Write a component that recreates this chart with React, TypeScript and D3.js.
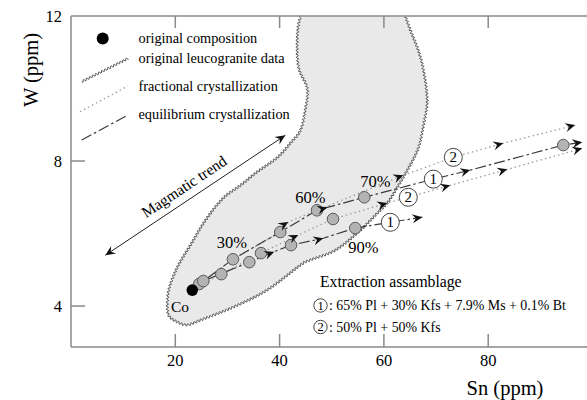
import React from 'react';
import * as d3 from 'd3';

// ---------- data ----------
const xTicks = [20, 40, 60, 80];
const yTicks = [4, 8, 12];

// outline of the original leucogranite data field (Sn, W)
const regionSn = [44.0, 43.4, 43.6, 45.3, 44.9, 44.0, 42.1, 39.6, 35.7, 32.5, 29.2, 25.8, 22.9, 20.6, 19.0, 18.5, 18.7, 20.4, 22.3, 24.8, 31.1, 37.6, 44.0, 45.9, 50.7, 55.1, 58.4, 60.8, 62.8, 64.7, 66.6, 67.6, 68.3, 67.6, 66.6, 65.1, 64.1];
const regionW = [12.0, 11.5, 10.6, 10.0, 9.4, 8.85, 8.5, 8.1, 7.7, 7.33, 6.98, 6.37, 5.68, 5.13, 4.58, 4.17, 3.75, 3.56, 3.48, 3.61, 3.97, 4.44, 5.13, 5.27, 5.54, 6.04, 6.51, 6.87, 7.33, 7.8, 8.35, 8.99, 9.67, 10.5, 11.05, 11.6, 12.0];

const coSn = 23.26;
const coW = 4.44;

// modelled melt compositions (grey circles)
const modelSn = [24.6, 25.37, 28.82, 31.06, 34.19, 36.43, 40.13, 42.19, 47.17, 50.24, 54.51, 56.24, 94.4];
const modelW = [4.61, 4.69, 4.88, 5.29, 5.21, 5.46, 6.04, 5.68, 6.64, 6.4, 6.15, 7.0, 8.44];

// trajectories
const frac2UpperSn = [23.26, 25.37, 31.06, 40.13, 41.67, 47.17, 63.72, 73.31, 82.89, 96.7];
const frac2UpperW = [4.44, 4.69, 5.29, 6.04, 6.32, 6.64, 7.61, 8.1, 8.49, 8.99];
const frac2UpperArrows = [4, 6, 8, 9];

const eq1UpperSn = [23.26, 25.37, 31.06, 40.13, 47.17, 49.15, 56.24, 69.47, 76.57, 94.4, 98.04];
const eq1UpperW = [4.44, 4.69, 5.29, 6.04, 6.64, 6.72, 7.0, 7.5, 7.75, 8.44, 8.52];
const eq1UpperArrows = [5, 8, 10];

const frac2LowerSn = [23.26, 28.82, 36.43, 43.59, 50.24, 60.65, 64.68, 72.73, 83.66, 98.04];
const frac2LowerW = [4.44, 4.88, 5.46, 5.96, 6.4, 6.84, 7.0, 7.33, 7.77, 8.35];
const frac2LowerArrows = [3, 5, 7, 8, 9];

const eq1LowerSn = [23.26, 25.37, 34.19, 38.98, 42.19, 48.38, 54.51, 61.23, 67.36];
const eq1LowerW = [4.44, 4.69, 5.21, 5.5, 5.68, 5.87, 6.15, 6.31, 6.45];
const eq1LowerArrows = [3, 5, 8];

// circled assemblage labels on the trajectories
const markLabels = ['2', '1', '2', '1'];
const markSn = [73.31, 69.47, 64.68, 61.23];
const markW = [8.1, 7.5, 7.0, 6.31];

// percentage labels
const pctLabels = ['30%', '60%', '70%', '90%'];
const pctSn = [30.87, 45.89, 58.35, 56.05];
const pctW = [5.6, 6.84, 7.28, 5.46];

// magmatic trend arrow (Sn, W)
const trendSn = [6.58, 41.09];
const trendW = [5.4, 8.71];

const legendItems = ['original composition', 'original leucogranite data', 'fractional crystallization', 'equilibrium crystallization'];
const assemblageTitle = 'Extraction assamblage';
const assemblageNums = ['1', '2'];
const assemblageTexts = [': 65% Pl + 30% Kfs + 7.9% Ms + 0.1% Bt', ': 50% Pl + 50% Kfs'];

// ---------- helpers ----------
const FONT = "'Liberation Serif', 'Times New Roman', serif";
type P = [number, number];

function catmull(pts: P[], steps = 10): P[] {
  const out: P[] = [];
  for (let i = 0; i < pts.length - 1; i++) {
    const p0 = pts[i - 1] || pts[i];
    const p1 = pts[i];
    const p2 = pts[i + 1];
    const p3 = pts[i + 2] || pts[i + 1];
    for (let s = 0; s < steps; s++) {
      const t = s / steps, t2 = t * t, t3 = t2 * t;
      const f = (a: number, b: number, c: number, d: number) =>
        0.5 * (2 * b + (-a + c) * t + (2 * a - 5 * b + 4 * c - d) * t2 + (-a + 3 * b - 3 * c + d) * t3);
      out.push([f(p0[0], p1[0], p2[0], p3[0]), f(p0[1], p1[1], p2[1], p3[1])]);
    }
  }
  out.push(pts[pts.length - 1]);
  return out;
}

function wavy(pts: P[], amp: number, wl: number): string {
  const cum = [0];
  for (let i = 1; i < pts.length; i++) cum.push(cum[i - 1] + Math.hypot(pts[i][0] - pts[i - 1][0], pts[i][1] - pts[i - 1][1]));
  const total = cum[cum.length - 1];
  const res: P[] = [];
  let j = 1;
  for (let s = 0; s <= total; s += 0.5) {
    while (j < pts.length - 1 && cum[j] < s) j++;
    const a = pts[j - 1], b = pts[j];
    const seg = cum[j] - cum[j - 1] || 1;
    const t = Math.min(1, Math.max(0, (s - cum[j - 1]) / seg));
    const dx = (b[0] - a[0]) / seg, dy = (b[1] - a[1]) / seg;
    const o = amp * Math.sin((2 * Math.PI * s) / wl);
    res.push([a[0] + (b[0] - a[0]) * t - dy * o, a[1] + (b[1] - a[1]) * t + dx * o]);
  }
  return 'M' + res.map((p) => p[0].toFixed(2) + ',' + p[1].toFixed(2)).join('L');
}

const Arrowhead = ({ x, y, a }: { x: number; y: number; a: number }) => (
  <path d="M0,0 L-10,-4.5 L-6.5,0 L-10,4.5 Z" transform={`translate(${x},${y}) rotate(${a})`} fill="#111" />
);

const Circled = ({ x, y, n, r = 9, fs = 15 }: { x: number; y: number; n: string; r?: number; fs?: number }) => (
  <g>
    <circle cx={x} cy={y} r={r} fill="#fff" stroke="#444" strokeWidth={1} />
    <text x={x} y={y + fs * 0.34} textAnchor="middle" fontSize={fs} fontFamily={FONT}>{n}</text>
  </g>
);

export default function App() {
  const W = 587, H = 400;
  const x = d3.scaleLinear().domain([0, 100]).range([71, 592.5]);
  const y = d3.scaleLinear().domain([2.87, 12]).range([347, 16]);

  const regionPx: P[] = regionSn.map((s, i) => [x(s), y(regionW[i])]);
  const regionPath = wavy(catmull(regionPx, 8), 1.2, 3.4);

  const line = d3.line<P>().x((d) => x(d[0])).y((d) => y(d[1]));

  const lines = [
    { sn: frac2UpperSn, w: frac2UpperW, arrows: frac2UpperArrows, type: 'frac' },
    { sn: frac2LowerSn, w: frac2LowerW, arrows: frac2LowerArrows, type: 'frac' },
    { sn: eq1UpperSn, w: eq1UpperW, arrows: eq1UpperArrows, type: 'eq' },
    { sn: eq1LowerSn, w: eq1LowerW, arrows: eq1LowerArrows, type: 'eq' },
  ];

  const styleOf = (t: string) =>
    t === 'frac'
      ? { stroke: '#9a9a9a', strokeWidth: 1.3, strokeDasharray: '1.5,3' }
      : { stroke: '#3a3a3a', strokeWidth: 1.2, strokeDasharray: '11,3,2.5,3' };

  const arrowsOf = (sn: number[], w: number[], idx: number[]) =>
    idx.map((k) => {
      const a = k > 0 ? k - 1 : k;
      const b = k < sn.length - 1 ? k + 1 : k;
      const ang = (Math.atan2(y(w[b]) - y(w[a]), x(sn[b]) - x(sn[a])) * 180) / Math.PI;
      return { x: x(sn[k]), y: y(w[k]), a: ang };
    });

  const tx0 = x(trendSn[0]), ty0 = y(trendW[0]), tx1 = x(trendSn[1]), ty1 = y(trendW[1]);
  const tAng = (Math.atan2(ty1 - ty0, tx1 - tx0) * 180) / Math.PI;

  const axisColor = '#8a8a8a';
  const legendWave = wavy([[81.7, 81.7], [128.3, 58.3]], 1.1, 3.4);

  return (
    <svg width={W} height={H} style={{ position: 'absolute', left: 0, top: 0, background: '#fff' }} fontFamily={FONT}>
      {/* data field */}
      <path d={regionPath + 'Z'} fill="#e9e9e9" stroke="none" />
      <path d={regionPath} fill="none" stroke="#3c3c3c" strokeWidth={0.9} />

      {/* axes frame */}
      <line x1={71} y1={16} x2={W} y2={16} stroke={axisColor} strokeWidth={1.5} />
      <line x1={71} y1={16} x2={71} y2={347} stroke={axisColor} strokeWidth={1.5} />
      <line x1={71} y1={347} x2={W} y2={347} stroke={axisColor} strokeWidth={1.5} />
      {xTicks.map((t) => (
        <g key={'xt' + t}>
          <line x1={x(t)} x2={x(t)} y1={347} y2={334} stroke={axisColor} strokeWidth={1.5} />
          <line x1={x(t)} x2={x(t)} y1={16} y2={28} stroke={axisColor} strokeWidth={1.5} />
          <text x={x(t)} y={366} textAnchor="middle" fontSize={16.5}>{t}</text>
        </g>
      ))}
      {yTicks.map((t) => (
        <g key={'yt' + t}>
          {t < 12 && <line x1={71} x2={85} y1={y(t)} y2={y(t)} stroke={axisColor} strokeWidth={1.5} />}
          <text x={62} y={y(t) + 5.5} textAnchor="end" fontSize={16.5}>{t}</text>
        </g>
      ))}
      <text transform="translate(38,70) rotate(-90)" textAnchor="middle" fontSize={20.5}>W (ppm)</text>
      <text x={505} y={395} textAnchor="middle" fontSize={20.5}>Sn (ppm)</text>

      {/* trajectories */}
      {lines.map((l, i) => (
        <path key={'l' + i} d={line(l.sn.map((s, j) => [s, l.w[j]] as P)) || ''} fill="none" {...styleOf(l.type)} />
      ))}

      {/* model points */}
      {modelSn.map((s, i) => (
        <circle key={'m' + i} cx={x(s)} cy={y(modelW[i])} r={5.8} fill="#b3b3b3" stroke="#5a5a5a" strokeWidth={1} />
      ))}
      <circle cx={x(coSn)} cy={y(coW)} r={5.8} fill="#000" />

      {lines.map((l, i) =>
        arrowsOf(l.sn, l.w, l.arrows).map((a, j) => <Arrowhead key={'a' + i + '-' + j} {...a} />)
      )}

      {markLabels.map((m, i) => (
        <Circled key={'c' + i} x={x(markSn[i])} y={y(markW[i])} n={m} />
      ))}

      {pctLabels.map((p, i) => (
        <text key={'p' + i} x={x(pctSn[i])} y={y(pctW[i])} textAnchor="middle" fontSize={16.5}>{p}</text>
      ))}
      <text x={171} y={312} fontSize={15.5}>Co</text>

      {/* magmatic trend */}
      <line x1={tx0} y1={ty0} x2={tx1} y2={ty1} stroke="#222" strokeWidth={1} />
      <Arrowhead x={tx1} y={ty1} a={tAng} />
      <Arrowhead x={tx0} y={ty0} a={tAng + 180} />
      <text transform={`translate(187,191) rotate(${tAng})`} textAnchor="middle" fontSize={15.5}>Magmatic trend</text>

      {/* legend */}
      <circle cx={102.7} cy={38.5} r={6} fill="#000" />
      <path d={legendWave} fill="none" stroke="#3c3c3c" strokeWidth={0.9} />
      <line x1={80} y1={111.7} x2={128} y2={86} {...styleOf('frac')} />
      <line x1={81.7} y1={140} x2={128} y2={115} {...styleOf('eq')} />
      {legendItems.map((t, i) => (
        <text key={'lg' + i} x={138.5} y={[43, 63, 91, 118.5][i]} fontSize={14.3}>{t}</text>
      ))}

      {/* extraction assemblage */}
      <text x={320} y={287} fontSize={15.7}>{assemblageTitle}</text>
      {assemblageNums.map((n, i) => (
        <g key={'as' + i}>
          <Circled x={320.5} y={[305.5, 327][i]} n={n} r={6.7} fs={12.5} />
          <text x={329} y={[310, 331.5][i]} fontSize={13.9}>{assemblageTexts[i]}</text>
        </g>
      ))}
    </svg>
  );
}
